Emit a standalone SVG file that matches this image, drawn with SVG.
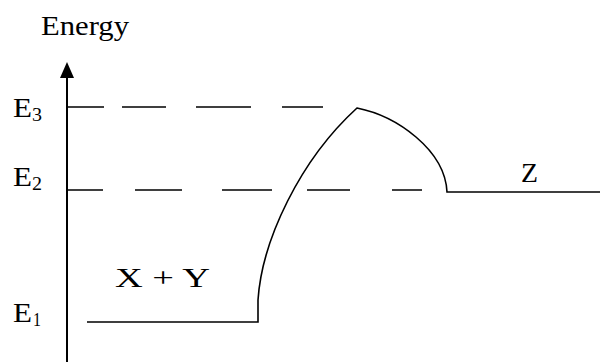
<svg xmlns="http://www.w3.org/2000/svg" width="600" height="362" viewBox="0 0 600 362">
<defs>
<style>
.t{font-family:"Liberation Serif","Times New Roman",serif;font-size:27px;fill:#000}
.s{font-family:"Liberation Serif","Times New Roman",serif;font-size:18px;fill:#000}
.ln{fill:none;stroke:#000;stroke-width:1.6}
.ds{fill:none;stroke:#000;stroke-width:1.6}
</style>
</defs>
<rect width="600" height="362" fill="#fff"/>
<g id="axis">
<line x1="67" y1="74" x2="67" y2="362" stroke="#000" stroke-width="2"/>
<polygon points="67,62 74,78 60,78" fill="#000"/>
<text class="t" x="41" y="35" textLength="88" lengthAdjust="spacingAndGlyphs">Energy</text>
</g>
<g id="labels">
<text class="t" x="13" y="117" textLength="19" lengthAdjust="spacingAndGlyphs">E</text><text class="s" x="32" y="121" textLength="10" lengthAdjust="spacingAndGlyphs">3</text>
<text class="t" x="13" y="186" textLength="19" lengthAdjust="spacingAndGlyphs">E</text><text class="s" x="32" y="190" textLength="10" lengthAdjust="spacingAndGlyphs">2</text>
<text class="t" x="13" y="322" textLength="19" lengthAdjust="spacingAndGlyphs">E</text><text class="s" x="33" y="326" textLength="8" lengthAdjust="spacingAndGlyphs">1</text>
<text class="t" x="115" y="287" textLength="95" lengthAdjust="spacingAndGlyphs">X + Y</text>
<text class="t" x="521" y="182" textLength="17" lengthAdjust="spacingAndGlyphs">Z</text>
</g>
<g id="connectors">
<path class="ds" d="M68,107 H104 M122,107 H166 M196,107 H251 M282,107 H323"/>
<path class="ds" d="M68,190 H103 M135,190 H182 M222,190 H272 M307,190 H350 M392,190 H422"/>
<path class="ln" d="M87,322 H258 V300 C262,240 300,160 357,108 C397,116 445,150 447,192 H600"/>
</g>
</svg>
